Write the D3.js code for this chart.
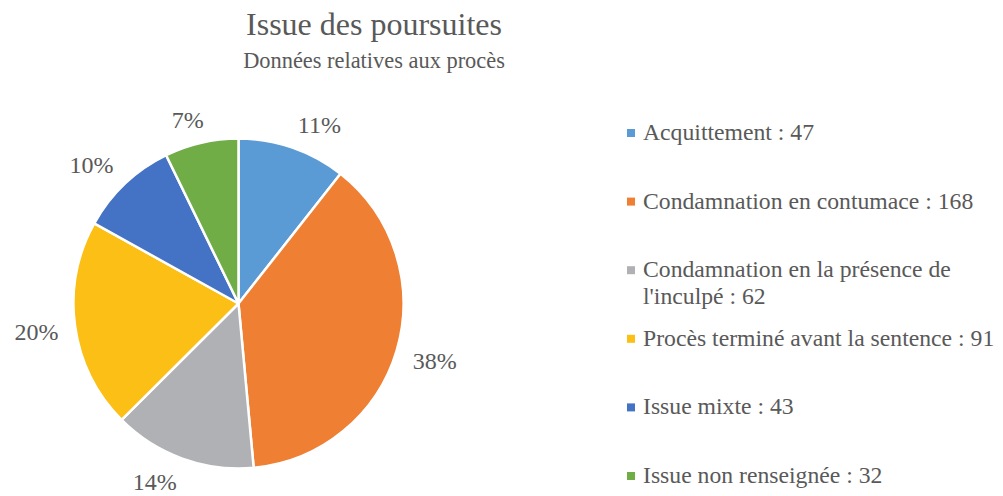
<!DOCTYPE html>
<html>
<head>
<meta charset="utf-8">
<script src="https://cdn.jsdelivr.net/npm/d3@7"></script>
</head>
<body style="margin:0;background:#fff">
<svg width="1003" height="496"></svg>
<script>
const categories = [
  "Acquittement",
  "Condamnation en contumace",
  "Condamnation en la présence de l'inculpé",
  "Procès terminé avant la sentence",
  "Issue mixte",
  "Issue non renseignée"
];
const values = [47, 168, 62, 91, 43, 32];
const pctLabels = ["11%", "38%", "14%", "20%", "10%", "7%"];
const colors = ["#5B9BD5", "#EE7F33", "#B0B1B4", "#FBBF15", "#4472C4", "#70AD47"];

const svg = d3.select("svg"),
  width = +svg.attr("width"),
  height = +svg.attr("height"),
  fam = "Times New Roman",
  textColor = "#595959";

const cx = 238.5, cy = 303.5, radius = 165;

// title
svg.append("text")
  .attr("x", 374).attr("y", 35)
  .attr("text-anchor", "middle")
  .style("font-family", "'" + fam + "'")
  .attr("font-size", 32)
  .attr("fill", textColor)
  .text("Issue des poursuites");

svg.append("text")
  .attr("x", 374).attr("y", 68)
  .attr("text-anchor", "middle")
  .style("font-family", "'" + fam + "'")
  .attr("font-size", 22.4)
  .attr("fill", textColor)
  .text("Données relatives aux procès");

const pie = d3.pie().sort(null).value(d => d)(values);
const arc = d3.arc().innerRadius(0).outerRadius(radius);

const g = svg.append("g").attr("transform", "translate(" + cx + "," + cy + ")");

g.selectAll("path")
  .data(pie)
  .enter()
  .append("path")
  .attr("d", arc)
  .attr("fill", (d, i) => colors[i])
  .attr("stroke", "#fff")
  .attr("stroke-width", 2.5)
  .attr("stroke-linejoin", "round");

// percentage labels, outside end: box pushed out from the rim
const clamp = v => Math.max(-1, Math.min(1, v));
const labelH = 17, pad = 17, charW = 14.5;
g.selectAll("text.pct")
  .data(pie)
  .enter()
  .append("text")
  .attr("class", "pct")
  .style("font-family", "'" + fam + "'")
  .attr("font-size", 24)
  .attr("fill", textColor)
  .attr("text-anchor", "middle")
  .text((d, i) => pctLabels[i])
  .attr("x", (d, i) => {
    const a = (d.startAngle + d.endAngle) / 2, s = Math.sin(a),
      w = pctLabels[i].length * charW;
    return (radius + pad) * s + (w / 2) * clamp(3 * s);
  })
  .attr("y", d => {
    const a = (d.startAngle + d.endAngle) / 2, c = -Math.cos(a);
    return (radius + pad - 2) * c + (labelH / 2) * clamp(2.5 * c) + labelH / 2;
  });

// legend
const legendX = 627, legendTop = 140, legendStep = 68.6, maxChars = 32;
const legend = svg.append("g").attr("class", "legend");

categories.forEach((name, i) => {
  const y = legendTop + i * legendStep;
  legend.append("rect")
    .attr("x", legendX).attr("y", y - 11)
    .attr("width", 8).attr("height", 8)
    .attr("fill", colors[i]);

  // wrap the label on words (by character count), one text per line
  const words = (name + " : " + values[i]).split(" ");
  const lines = [[]];
  words.forEach(w => {
    const cur = lines[lines.length - 1];
    if (cur.length && (cur.join(" ") + " " + w).length > maxChars + 5 && w !== ":" && !/^\d+$/.test(w)) lines.push([w]);
    else cur.push(w);
  });
  lines.forEach((l, j) => {
    legend.append("text")
      .attr("x", legendX + 16).attr("y", y + j * 27)
      .style("font-family", "'" + fam + "'")
      .attr("font-size", 23.7)
      .attr("fill", textColor)
      .text(l.join(" "));
  });
});
</script>
</body>
</html>
